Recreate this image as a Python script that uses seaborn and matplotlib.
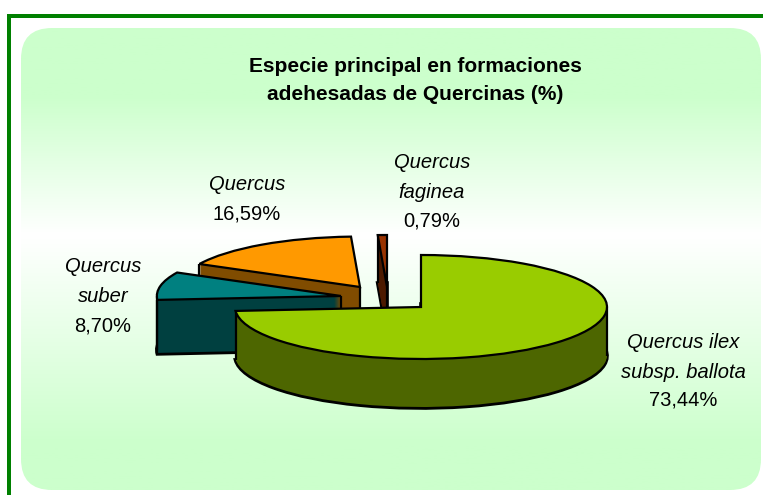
import numpy as np
import matplotlib
matplotlib.use("Agg")
import matplotlib.pyplot as plt
from matplotlib.patches import FancyBboxPatch, Rectangle
import seaborn as sns

especies = ["Quercus ilex\nsubsp. ballota", "Quercus\nsuber", "Quercus", "Quercus\nfaginea"]
valores = [73.44, 8.70, 16.59, 0.79]
top_colors = sns.color_palette(["#99CC00", "#008080", "#FF9900", "#993300"])
side_colors = sns.color_palette(["#4D6600", "#004040", "#804C00", "#4D1A00"])
titulo = "Especie principal en formaciones\nadehesadas de Quercinas (%)"

W, H = 763, 495
# pie centre and radii in pixels, then where each slice has been pulled to
cx, cy, rx, ry = 421, 306, 186, 52
apex_px = [(421, 307), (341, 296), (360, 287), (387, 287)]
radius = [1.0, 0.99, 0.97, 1.0]
depth_px = [49, 54, 48, 48]
draw_order = [2, 3, 1, 0]
# where the text goes: centre x, first line y, line step, y of the value
label_pos = [(683, 342, 30, 400), (103, 267, 29, 326), (247, 185, 0, 214), (432, 162, 30, 221)]

sns.set_theme(style="white")
plt.rcParams["font.family"] = ["Liberation Sans", "DejaVu Sans"]

fig = plt.figure(figsize=(W / 100, H / 100), dpi=100, facecolor="white")

# background panel and the green frame
bg = fig.add_axes([0, 0, 1, 1])
bg.set_xlim(0, W)
bg.set_ylim(H, 0)
bg.axis("off")
panel = FancyBboxPatch((21 + 31, 28 + 31), 740 - 62, 462 - 62, boxstyle="round,pad=31",
                       fc="none", ec="none")
bg.add_patch(panel)
ys_px = np.linspace(28, 490, 256)
grad = np.where(ys_px < 235, (235 - ys_px) / 140, (ys_px - 235) / 210)
grad = np.clip(grad, 0, 1).reshape(-1, 1)
cmap = matplotlib.colors.LinearSegmentedColormap.from_list("g", ["#FFFFFF", "#CCFFCC"])
im = bg.imshow(grad, extent=(21, 761, 490, 28), cmap=cmap, vmin=0, vmax=1, aspect="auto")
im.set_clip_path(panel)
bg.set_xlim(0, W)
bg.set_ylim(H, 0)
bg.add_patch(Rectangle((7, 14), W - 7, 4, fc="#008000", ec="none"))
bg.add_patch(Rectangle((7, 14), 4, H - 14, fc="#008000", ec="none"))

# pie axes: one data unit is rx wide and ry tall, so the circle lies flat
ax = fig.add_axes([0, 0, 1, 1])
total = sum(valores)
starts = 90 - 360 * np.cumsum([0] + valores[:-1]) / total


def draw_slice(i, center, color, **kw):
    w, _ = ax.pie([valores[i] / total], colors=[color], startangle=starts[i], normalize=False,
                  counterclock=False, radius=radius[i], center=center, wedgeprops=kw)
    return w[0]


for n, i in enumerate(draw_order):
    z = 10 * (n + 1)
    c = ((apex_px[i][0] - cx) / rx, (cy - apex_px[i][1]) / ry)
    d = depth_px[i] / ry
    # bottom outline first, side built up from stacked copies, then the lid
    draw_slice(i, (c[0], c[1] - d), side_colors[i], edgecolor="black", linewidth=2.6, zorder=z)
    for step in np.arange(depth_px[i] - 1, 0, -1):
        draw_slice(i, (c[0], c[1] - step / ry), side_colors[i], edgecolor="none", linewidth=0, zorder=z + 1)
    top = draw_slice(i, c, top_colors[i], edgecolor="black", linewidth=1.6, zorder=z + 3)
    # vertical edges only where the side can actually be seen
    angs = [a for a in (-180, 0, 180, 360) if top.theta1 < a < top.theta2]
    for a, sign in ((top.theta1, 1), (top.theta2, -1)):
        if np.sin(np.radians(a)) < 0 or sign * np.cos(np.radians(a)) > 0:
            angs.append(a)
    xs = [c[0]] + [c[0] + radius[i] * np.cos(np.radians(a)) for a in angs]
    ys = [c[1]] + [c[1] + radius[i] * np.sin(np.radians(a)) for a in angs]
    ax.vlines(xs, np.array(ys) - d, ys, color="black", lw=1.6, zorder=z + 2)

ax.set_aspect("auto")
ax.set_xlim(-cx / rx, (W - cx) / rx)
ax.set_ylim((cy - H) / ry, cy / ry)
ax.patch.set_visible(False)
ax.set_axis_off()

# texts
for t, y in zip(titulo.split("\n"), (66, 95)):
    bg.text(415, y, t, ha="center", va="center", fontsize=15, fontweight="bold", color="black")
for nombre, v, (x, y0, dy, yv) in zip(especies, valores, label_pos):
    for k, linea in enumerate(nombre.split("\n")):
        bg.text(x, y0 + k * dy, linea, ha="center", va="center", fontsize=14.5, style="italic", color="black")
    bg.text(x, yv, f"{v:.2f}%".replace(".", ","), ha="center", va="center", fontsize=14.5, color="black")

fig.savefig("out.png", dpi=100)
